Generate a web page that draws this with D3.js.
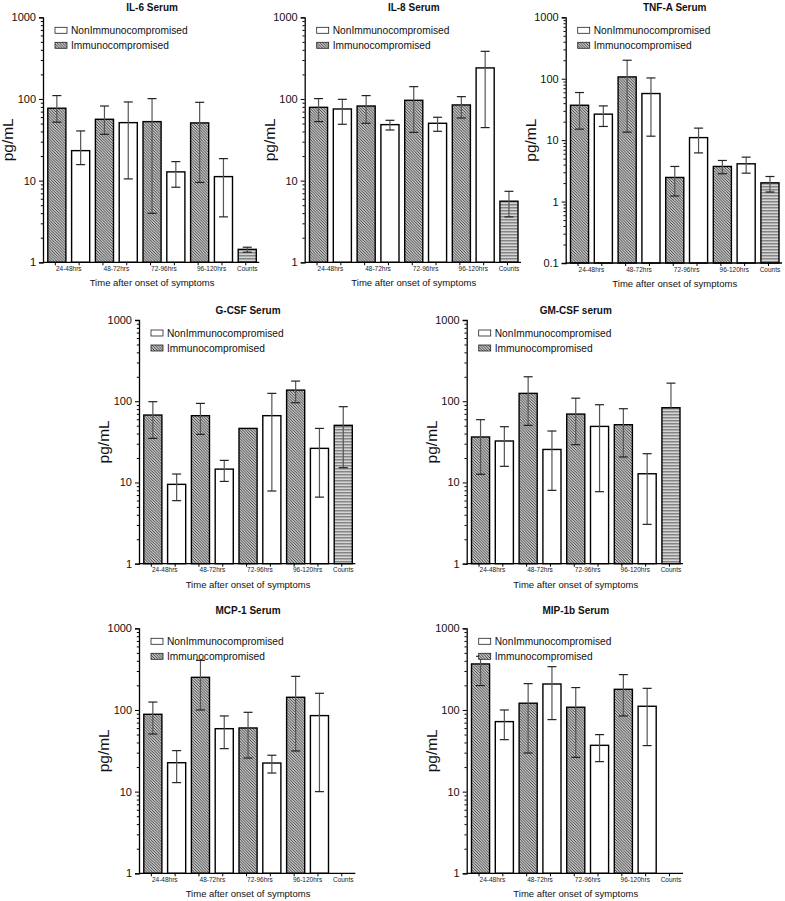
<!DOCTYPE html>
<html>
<head>
<meta charset="utf-8">
<script src="https://cdn.jsdelivr.net/npm/d3@7"></script>
<style>
  html, body { margin: 0; padding: 0; background: #fff; }
  svg { display: block; font-family: "Liberation Sans", Arial, Helvetica, sans-serif; }
</style>
</head>
<body>
<svg id="chart" width="785" height="901"></svg>
<script>
// ---------- DATA ----------
const categories = ["24-48hrs", "48-72hrs", "72-96hrs", "96-120hrs", "Counts"];
// bar order: Imm, Non, Imm, Non, Imm, Non, Imm, Non, Counts
const barGroups = ["Immunocompromised", "NonImmunocompromised", "Immunocompromised", "NonImmunocompromised",
  "Immunocompromised", "NonImmunocompromised", "Immunocompromised", "NonImmunocompromised", "Counts"];
const barCategory = [0, 0, 1, 1, 2, 2, 3, 3, 4];
const legendLabels = ["NonImmunocompromised", "Immunocompromised"];
const yTickLabels1 = ["1", "10", "100", "1000"];
const yTickLabels01 = ["0.1", "1", "10", "100", "1000"];

const il6Mean = [77, 23.3, 56.4, 51.3, 52.8, 12.8, 50.9, 11.2, 1.44];
const il6Lo   = [52, 15.7, 36.9, 10.5, 3.98, 8.3, 9.5, 3.6, 1.33];
const il6Hi   = [110, 40.6, 82, 91.9, 101, 17.1, 91, 18.6, 1.53];

const il8Mean = [79, 75.4, 82, 48.5, 96.3, 50.4, 84.5, 240, 5.6];
const il8Lo   = [52.8, 49, 50.4, 41.7, 39, 40.2, 58.5, 44.6, 3.6];
const il8Hi   = [101, 99, 110, 54.8, 141.6, 59.7, 106.8, 383, 7.4];

const tnfMean = [37, 26.5, 107, 57.4, 2.47, 11.0, 3.73, 4.12, 2.02];
const tnfLo   = [15.1, 16.7, 13.5, 11.6, 1.23, 6.2, 2.84, 2.9, 1.43];
const tnfHi   = [59.6, 36.1, 200, 103, 3.73, 15.7, 4.67, 5.29, 2.56];

const gcsfMean = [67.6, 9.48, 66.4, 14.6, 46.3, 66.4, 137, 26.3, 50.5];
const gcsfLo   = [34.9, 5.97, 39.1, 10.3, null, 7.85, 95.9, 6.6, 15.2];
const gcsfHi   = [98.7, 12.7, 94.1, 18.7, null, 125, 177, 46.3, 85.7];

const gmcsfMean = [36.3, 32.4, 125, 25.5, 69.5, 49, 51.4, 12.8, 83.2];
const gmcsfLo   = [12.6, 15.8, 50.5, 8.0, 29.2, 7.7, 20.6, 3.05, null];
const gmcsfHi   = [59.3, 48.6, 200, 43, 109, 90.6, 80.9, 22.6, 167];

const mcpMean = [88.5, 22.6, 251, 59, 60.2, 22.4, 143, 85.3, null];
const mcpLo   = [50.8, 12.9, 100, 33.6, 25.8, 16.9, 31.5, 10, null];
const mcpHi   = [125, 31.8, 405, 84.5, 93.6, 27.9, 258, 160, null];

const mipMean = [366, 72, 121, 208, 108, 36.9, 179, 111, null];
const mipLo   = [199, 43.3, 29.7, 76.2, 26.3, 23.3, 84.5, 36.6, null];
const mipHi   = [454, 100, 210, 339, 188, 49.9, 271, 184, null];

// ---------- LAYOUT ----------
const panels = [
  { title: "IL-6 Serum",   mean: il6Mean,   lo: il6Lo,   hi: il6Hi,   yMin: 1,   labels: yTickLabels1,  xL: 43,    yT: 17.3,  yB: 262.3, titleY: 10.5 },
  { title: "IL-8 Serum",   mean: il8Mean,   lo: il8Lo,   hi: il8Hi,   yMin: 1,   labels: yTickLabels1,  xL: 304.7, yT: 17.3,  yB: 262.3, titleY: 10.5 },
  { title: "TNF-A Serum",  mean: tnfMean,   lo: tnfLo,   hi: tnfHi,   yMin: 0.1, labels: yTickLabels01, xL: 565.7, yT: 17.3,  yB: 263,   titleY: 10.5 },
  { title: "G-CSF Serum",  mean: gcsfMean,  lo: gcsfLo,  hi: gcsfHi,  yMin: 1,   labels: yTickLabels1,  xL: 139,   yT: 320,   yB: 563.7, titleY: 314 },
  { title: "GM-CSF serum", mean: gmcsfMean, lo: gmcsfLo, hi: gmcsfHi, yMin: 1,   labels: yTickLabels1,  xL: 466.7, yT: 320,   yB: 563.7, titleY: 314 },
  { title: "MCP-1 Serum",  mean: mcpMean,   lo: mcpLo,   hi: mcpHi,   yMin: 1,   labels: yTickLabels1,  xL: 139,   yT: 628.3, yB: 873.3, titleY: 614 },
  { title: "MIP-1b Serum", mean: mipMean,   lo: mipLo,   hi: mipHi,   yMin: 1,   labels: yTickLabels1,  xL: 466.7, yT: 628.3, yB: 873.3, titleY: 614 }
];

const svg = d3.select("#chart");
const defs = svg.append("defs");

// diagonal hatch for Immunocompromised
const hp = 2.8;
const hatch = defs.append("pattern").attr("id", "hatch")
  .attr("patternUnits", "userSpaceOnUse").attr("width", hp).attr("height", hp);
hatch.append("rect").attr("width", hp).attr("height", hp).attr("fill", "#fff");
hatch.append("path").attr("d", `M0,0 L${hp},${hp} M${-hp/2},${hp/2} L${hp/2},${hp*1.5} M${hp/2},${-hp/2} L${hp*1.5},${hp/2}`)
  .attr("stroke", "#2a2a2a").attr("stroke-width", 0.95);

// horizontal stripes for Counts
const stripes = defs.append("pattern").attr("id", "stripes")
  .attr("patternUnits", "userSpaceOnUse").attr("width", 4).attr("height", 3);
stripes.append("rect").attr("width", 4).attr("height", 3).attr("fill", "#d6d6d6");
stripes.append("rect").attr("width", 4).attr("height", 1.5).attr("fill", "#858585");

function fillFor(g) {
  if (g === "Immunocompromised") return "url(#hatch)";
  if (g === "Counts") return "url(#stripes)";
  return "#fff";
}

const barsWidth = 208.5;
const offset = 4.8;

panels.forEach(p => {
  const g = svg.append("g");
  const x = d3.scaleBand().domain(d3.range(barGroups.length))
    .range([p.xL + offset, p.xL + offset + barsWidth]).paddingInner(0.24);
  const y = d3.scaleLog().domain([p.yMin, 1000]).range([p.yB, p.yT]);
  const xEnd = p.xL + offset + barsWidth + 3;
  const cx = (p.xL + offset + p.xL + offset + barsWidth) / 2;

  // title
  g.append("text").attr("x", cx).attr("y", p.titleY).attr("text-anchor", "middle")
    .attr("font-size", 10).attr("font-weight", "bold").attr("fill", "#111").text(p.title);

  // bars
  const idx = d3.range(barGroups.length).filter(i => p.mean[i] != null);
  g.selectAll("rect.bar").data(idx).join("rect").attr("class", "bar")
    .attr("x", i => x(i)).attr("width", x.bandwidth())
    .attr("y", i => y(p.mean[i])).attr("height", i => p.yB - y(p.mean[i]))
    .attr("fill", i => fillFor(barGroups[i]))
    .attr("stroke", "#000").attr("stroke-width", 1.4);

  // error bars
  const capW = 9;
  idx.forEach(i => {
    const c = x(i) + x.bandwidth() / 2;
    const hi = p.hi[i], lo = p.lo[i];
    if (hi == null && lo == null) return;
    const top = hi != null ? y(hi) : y(p.mean[i]);
    const bot = lo != null ? y(lo) : y(p.mean[i]);
    g.append("line").attr("x1", c).attr("x2", c).attr("y1", top).attr("y2", bot)
      .attr("stroke", "#555").attr("stroke-width", 1.2);
    if (hi != null) g.append("line").attr("x1", c - capW / 2).attr("x2", c + capW / 2)
      .attr("y1", top).attr("y2", top).attr("stroke", "#222").attr("stroke-width", 1.2);
    if (lo != null) g.append("line").attr("x1", c - capW / 2).attr("x2", c + capW / 2)
      .attr("y1", bot).attr("y2", bot).attr("stroke", "#222").attr("stroke-width", 1.2);
  });

  // y axis
  const ticks = y.ticks();
  const isMajor = v => Math.abs(Math.log10(v) - Math.round(Math.log10(v))) < 1e-9;
  const yAxis = d3.axisLeft(y).tickValues(ticks).tickSize(4).tickPadding(3)
    .tickFormat(v => {
      if (!isMajor(v)) return "";
      const k = Math.round(Math.log10(v)) - Math.round(Math.log10(p.yMin));
      return p.labels[k];
    });
  const ya = g.append("g").attr("transform", `translate(${p.xL},0)`).call(yAxis);
  ya.select(".domain").attr("stroke", "#000").attr("stroke-width", 1.3);
  ya.selectAll(".tick line").attr("stroke", "#000").attr("stroke-width", 1)
    .attr("x2", d => isMajor(d) ? -4 : -2.2);
  ya.selectAll(".tick text").attr("font-size", 11).attr("fill", "#111")
    .attr("font-family", "'Liberation Sans', Arial, sans-serif");

  // y label
  g.append("text").attr("transform", `translate(${p.xL - 30},${(p.yT + p.yB) / 2}) rotate(-90)`)
    .attr("text-anchor", "middle").attr("font-size", 15.5).attr("fill", "#111").text("pg/mL");

  // x axis line
  g.append("line").attr("x1", p.xL).attr("x2", xEnd).attr("y1", p.yB).attr("y2", p.yB)
    .attr("stroke", "#000").attr("stroke-width", 1.3);
  // x ticks at each bar
  g.selectAll("line.xt").data(d3.range(barGroups.length)).join("line").attr("class", "xt")
    .attr("x1", i => x(i) + x.bandwidth() / 2 - 1.5).attr("x2", i => x(i) + x.bandwidth() / 2 - 1.5)
    .attr("y1", p.yB).attr("y2", p.yB + 3).attr("stroke", "#000").attr("stroke-width", 1);
  // category labels
  categories.forEach((cat, k) => {
    const members = d3.range(barGroups.length).filter(i => barCategory[i] === k);
    const mx = d3.mean(members, i => x(i) + x.bandwidth() / 2);
    g.append("text").attr("x", mx).attr("y", p.yB + 8.5).attr("text-anchor", "middle")
      .attr("font-size", 6.5).attr("fill", "#222").text(cat);
  });
  // x title
  g.append("text").attr("x", cx).attr("y", p.yB + 24).attr("text-anchor", "middle")
    .attr("font-size", 9.5).attr("fill", "#111").text("Time after onset of symptoms");

  // legend
  legendLabels.forEach((lab, k) => {
    const ly = p.yT + 13 + k * 15;
    g.append("rect").attr("x", p.xL + 12).attr("y", ly - 3).attr("width", 12).attr("height", 6)
      .attr("fill", lab === "Immunocompromised" ? "url(#hatch)" : "#fff")
      .attr("stroke", "#222").attr("stroke-width", 0.8);
    g.append("text").attr("x", p.xL + 28).attr("y", ly).attr("dy", "0.36em")
      .attr("font-size", 10.2).attr("fill", "#111").text(lab);
  });
});
</script>
</body>
</html>
